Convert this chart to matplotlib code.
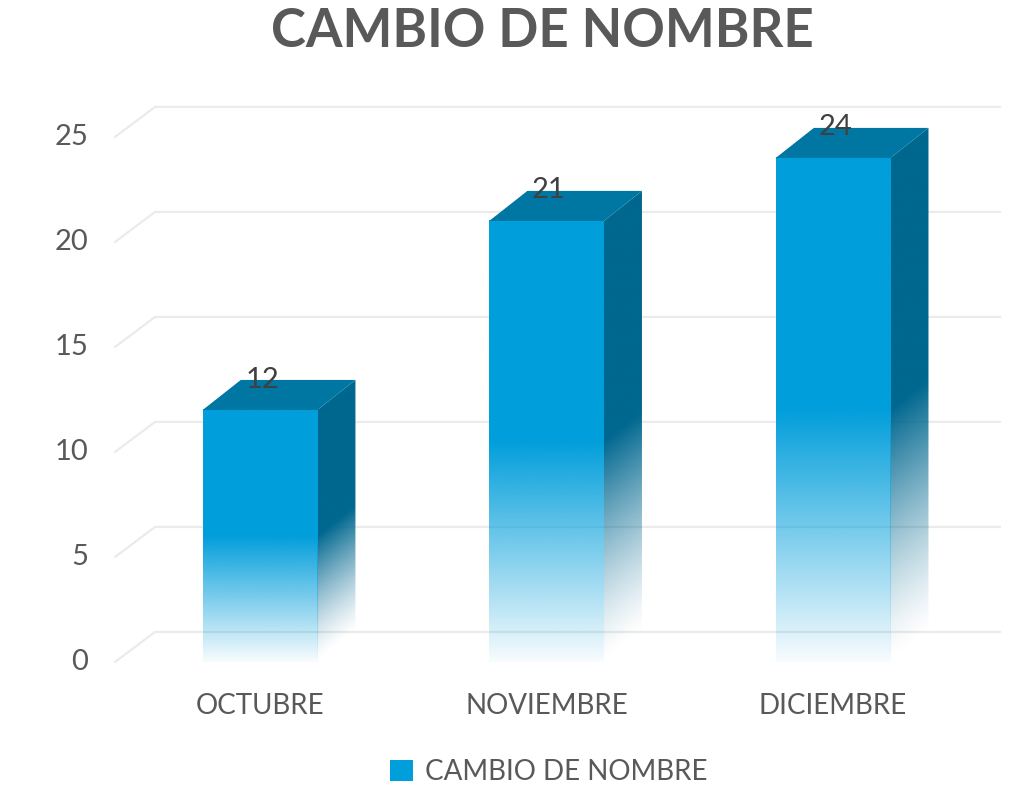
import numpy as np
import matplotlib.pyplot as plt
from matplotlib.patches import Polygon, Patch

categories = ["OCTUBRE", "NOVIEMBRE", "DICIEMBRE"]
values = [12, 21, 24]
y_ticks = [0, 5, 10, 15, 20, 25]
series_name = "CAMBIO DE NOMBRE"
title = "CAMBIO DE NOMBRE"

plt.rcParams['font.family'] = ['Lato', 'DejaVu Sans']

FRONT = np.array([0x00, 0x9E, 0xDB]) / 255
SIDE = np.array([0x00, 0x67, 0x8F]) / 255
TOP = np.array([0x00, 0x76, 0xA3]) / 255
TEXT = '#595959'
GRID = '#EBEBEB'

# fake 3d geometry (x in category units, y in value units)
W = 0.40
DX = 0.133
DY = 1.43

fig = plt.figure(figsize=(10.11, 7.85), dpi=100)
ax = fig.add_axes([0, 0, 1, 1])
ax.set_xlim(-0.9075, 2.621)
ax.set_ylim(-5.857, 31.52)
ax.axis('off')

# back-wall gridlines with a short diagonal to the front
gx0 = -0.506
gx1 = 2.583
for t in y_ticks:
    ax.plot([gx0, gx0 + DX * 1.05, gx1], [t, t + DY, t + DY],
            color=GRID, lw=1.6, zorder=1, solid_capstyle='round')
    ax.text(-0.60, t, str(t), ha='right', va='center', fontsize=21, color=TEXT)


def fade_img(color, alpha):
    img = np.ones(alpha.shape + (4,))
    img[..., :3] = color
    img[..., 3] = alpha
    return img


for i, (cat, v) in enumerate(zip(categories, values)):
    x0 = i - W / 2
    x1 = i + W / 2
    half = 0.5 * v

    # side face
    side = Polygon([(x1, 0), (x1 + DX, DY), (x1 + DX, v + DY), (x1, v)],
                   closed=True, facecolor='none', edgecolor='none')
    ax.add_patch(side)
    xs = np.linspace(x1, x1 + DX, 60)
    ys = np.linspace(0, v + DY, 400)
    XX, YY = np.meshgrid(xs, ys)
    h = YY - (XX - x1) / DX * DY
    a = np.clip(h / half, 0, 1) ** 1.3
    im = ax.imshow(fade_img(SIDE, a), extent=[x1, x1 + DX, 0, v + DY],
                   origin='lower', aspect='auto', zorder=2, interpolation='bilinear')
    im.set_clip_path(side)

    # front face
    ys = np.linspace(0, v, 400)
    a = np.clip(ys / half, 0, 1)[:, None] * 0.97 + 0.03
    ax.imshow(fade_img(FRONT, a), extent=[x0, x1, 0, v], origin='lower',
              aspect='auto', zorder=3, interpolation='bilinear')

    # top face
    ax.add_patch(Polygon([(x0, v), (x0 + DX, v + DY), (x1 + DX, v + DY), (x1, v)],
                         closed=True, facecolor=TOP, edgecolor='none', zorder=4))

    ax.text(i + 0.007, v + 1.45, str(v), ha='center', va='center',
            fontsize=21, color='#404040', zorder=5)
    ax.text(i, -2.1, cat, ha='center', va='center', fontsize=20, color=TEXT)

ax.set_xlim(-0.9075, 2.621)
ax.set_ylim(-5.857, 31.52)

fig.text(0.536, 0.96, title, ha='center', va='center', fontsize=38,
         fontweight='bold', color=TEXT)

fig.legend(handles=[Patch(facecolor=FRONT, edgecolor='none', label=series_name)],
           loc='center', bbox_to_anchor=(0.543, 0.0166), frameon=False,
           fontsize=20, handlelength=0.8, handleheight=0.8, handletextpad=0.45,
           labelcolor=TEXT)

fig.savefig('out.png', dpi=100)
